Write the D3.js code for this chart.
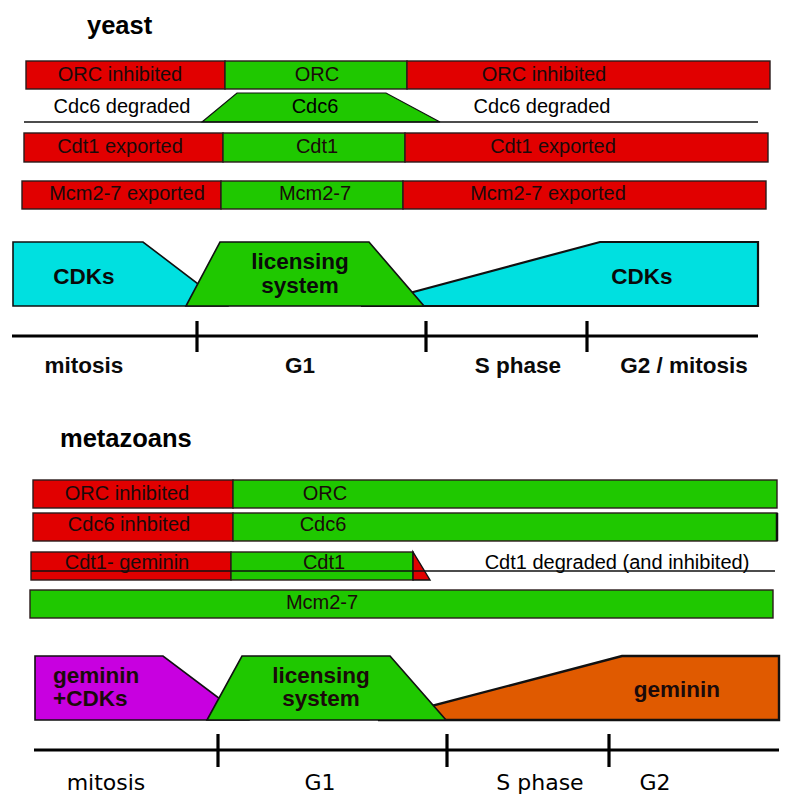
<!DOCTYPE html>
<html>
<head>
<meta charset="utf-8">
<script src="https://cdn.jsdelivr.net/npm/d3@7"></script>
<style>
html,body{margin:0;padding:0;background:#fff;}
svg{display:block;}
</style>
</head>
<body>
<svg id="chart" width="800" height="808"></svg>
<script>
// ---------- DATA (x values in cell-cycle units) ----------
const yeastORC = [
  {from:26, to:225, state:"off", label:"ORC inhibited", lx:120},
  {from:225, to:407, state:"on", label:"ORC", lx:317},
  {from:407, to:770, state:"off", label:"ORC inhibited", lx:544}
];
const yeastCdc6Line = [24, 758];
const yeastCdc6Shape = [[202,0],[237,1],[386,1],[440,0]];
const yeastCdc6Labels = [
  {label:"Cdc6 degraded", lx:122, dark:false},
  {label:"Cdc6", lx:315, dark:true},
  {label:"Cdc6 degraded", lx:542, dark:false}
];
const yeastCdt1 = [
  {from:24, to:223, state:"off", label:"Cdt1 exported", lx:120},
  {from:223, to:405, state:"on", label:"Cdt1", lx:317},
  {from:405, to:768, state:"off", label:"Cdt1 exported", lx:553}
];
const yeastMcm = [
  {from:22, to:221, state:"off", label:"Mcm2-7 exported", lx:127},
  {from:221, to:403, state:"on", label:"Mcm2-7", lx:315},
  {from:403, to:766, state:"off", label:"Mcm2-7 exported", lx:548}
];
const yeastEarlyCDK = [[13,1],[143,1],[227,0],[13,0]];
const yeastLicensing = [[186,0],[220,1],[369,1],[424,0]];
const yeastLateCDK = [[361,0],[600,1],[758,1],[758,0]];
const yeastAxis = [12, 758];
const yeastTicks = [197, 426, 587];
const yeastPhases = [
  {label:"mitosis", lx:84},
  {label:"G1", lx:300},
  {label:"S phase", lx:518},
  {label:"G2 / mitosis", lx:684}
];

const metaORC = [
  {from:33, to:233, state:"off", label:"ORC inhibited", lx:127},
  {from:233, to:777, state:"on", label:"ORC", lx:325}
];
const metaCdc6 = [
  {from:33, to:233, state:"off", label:"Cdc6 inhbited", lx:129},
  {from:233, to:777, state:"on", label:"Cdc6", lx:323}
];
const metaCdt1 = [
  {from:31, to:231, state:"off", label:"Cdt1- geminin", lx:127},
  {from:231, to:413, state:"on", label:"Cdt1", lx:324}
];
const metaCdt1Tail = [[413,1],[413,0],[430,0]];
const metaCdt1Line = [31, 775];
const metaCdt1Degraded = {label:"Cdt1 degraded (and inhibited)", lx:617};
const metaMcm = [
  {from:30, to:773, state:"on", label:"Mcm2-7", lx:322}
];
const metaEarly = [[35,1],[163,1],[248,0],[35,0]];
const metaLicensing = [[207,0],[242,1],[390,1],[446,0]];
const metaGeminin = [[378,0],[622,1],[779,1],[779,0]];
const metaAxis = [34, 779];
const metaTicks = [218, 447, 609];
const metaPhases = [
  {label:"mitosis", lx:106},
  {label:"G1", lx:320},
  {label:"S phase", lx:540},
  {label:"G2", lx:655}
];

// ---------- STYLE / LAYOUT ----------
const COL = {off:"#e10000", on:"#1fc800", cyan:"#00e0e0", purple:"#c800e0", orange:"#e05a00"};
const SANS = "'Liberation Sans', Arial, sans-serif";
const svg = d3.select("#chart");
const x = d3.scaleLinear().domain([0,800]).range([0,800]);

function barRow(data, top, h, baseOff){
  const g = svg.append("g");
  g.selectAll("rect").data(data).join("rect")
    .attr("x", d=>x(d.from)).attr("y", top)
    .attr("width", d=>x(d.to)-x(d.from)).attr("height", h)
    .attr("fill", d=>COL[d.state]).attr("stroke","#2a1a1a").attr("stroke-width",1.4);
  g.selectAll("text").data(data).join("text")
    .attr("x", d=>x(d.lx)).attr("y", top+baseOff)
    .attr("text-anchor","middle").attr("font-family",SANS).attr("font-size",20)
    .attr("fill","#1a0a0a").text(d=>d.label);
  return g;
}

function shape(pts, yS, fill, sw){
  svg.append("path")
    .attr("d", d3.line().x(d=>x(d[0])).y(d=>yS(d[1]))(pts) + "Z")
    .attr("fill", fill).attr("stroke","#111").attr("stroke-width",sw).attr("stroke-linejoin","miter");
}

function axis(ext, ticks, yPos, tickHalf){
  svg.append("line").attr("x1",x(ext[0])).attr("x2",x(ext[1]))
    .attr("y1",yPos).attr("y2",yPos).attr("stroke","#000").attr("stroke-width",3);
  svg.selectAll(null).data(ticks).join("line")
    .attr("x1",d=>x(d)).attr("x2",d=>x(d))
    .attr("y1",yPos-tickHalf).attr("y2",yPos+tickHalf+1)
    .attr("stroke","#000").attr("stroke-width",3.2);
}

// ---------- YEAST ----------
svg.append("text").attr("x",87).attr("y",34).attr("font-family",SANS)
  .attr("font-weight","bold").attr("font-size",25.5).attr("fill","#000").text("yeast");

barRow(yeastORC, 61, 28, 20);

// Cdc6 row
const yCdc6 = d3.scaleLinear().domain([0,1]).range([122,93]);
shape(yeastCdc6Shape, yCdc6, COL.on, 1.2);
svg.append("line").attr("x1",x(yeastCdc6Line[0])).attr("x2",x(yeastCdc6Line[1]))
  .attr("y1",122).attr("y2",122).attr("stroke","#111").attr("stroke-width",1.4);
svg.selectAll(null).data(yeastCdc6Labels).join("text")
  .attr("x",d=>x(d.lx)).attr("y",113).attr("text-anchor","middle")
  .attr("font-family",SANS).attr("font-size",20).attr("fill","#000").text(d=>d.label);

barRow(yeastCdt1, 133, 29, 20);
barRow(yeastMcm, 181, 28, 19);

const yY = d3.scaleLinear().domain([0,1]).range([306,242]);
shape(yeastEarlyCDK, yY, COL.cyan, 1.6);
shape(yeastLateCDK, yY, COL.cyan, 2.2);
shape(yeastLicensing, yY, COL.on, 1.6);

const bold22 = sel => sel.attr("font-family",SANS).attr("font-weight","bold").attr("font-size",22.5).attr("fill","#0a0a0a");
svg.append("text").attr("x",84).attr("y",284).attr("text-anchor","middle").call(bold22).text("CDKs");
svg.append("text").attr("x",642).attr("y",284).attr("text-anchor","middle").call(bold22).text("CDKs");
svg.append("text").attr("x",300).attr("y",269).attr("text-anchor","middle").call(bold22).text("licensing");
svg.append("text").attr("x",300).attr("y",293).attr("text-anchor","middle").call(bold22).text("system");

axis(yeastAxis, yeastTicks, 336, 15);
svg.selectAll(null).data(yeastPhases).join("text")
  .attr("x",d=>x(d.lx)).attr("y",373).attr("text-anchor","middle")
  .call(bold22).text(d=>d.label);

// ---------- METAZOANS ----------
svg.append("text").attr("x",60).attr("y",447).attr("font-family",SANS)
  .attr("font-weight","bold").attr("font-size",25.5).attr("fill","#000").text("metazoans");

barRow(metaORC, 480, 28, 20);
barRow(metaCdc6, 513, 28, 18);
svg.append("line").attr("x1",x(777)).attr("x2",x(777)).attr("y1",513).attr("y2",541)
  .attr("stroke","#111").attr("stroke-width",2.5);

// Cdt1 row
const mCdt1 = barRow(metaCdt1, 552, 28, 17);
const yCdt1 = d3.scaleLinear().domain([0,1]).range([580,552]);
shape(metaCdt1Tail, yCdt1, COL.off, 1.4);
svg.append("text").attr("x",x(metaCdt1Degraded.lx)).attr("y",569).attr("text-anchor","middle")
  .attr("font-family",SANS).attr("font-size",20).attr("fill","#000").text(metaCdt1Degraded.label);
svg.append("line").attr("x1",x(metaCdt1Line[0])).attr("x2",x(metaCdt1Line[1]))
  .attr("y1",571).attr("y2",571).attr("stroke","#111").attr("stroke-width",1.4);

barRow(metaMcm, 590, 28, 19);

const yM = d3.scaleLinear().domain([0,1]).range([720,656]);
shape(metaEarly, yM, COL.purple, 1.6);
shape(metaGeminin, yM, COL.orange, 2.4);
shape(metaLicensing, yM, COL.on, 1.6);

const boldM = sel => sel.attr("font-family",SANS).attr("font-weight","bold").attr("font-size",22.5).attr("fill","#1a0a0a");
svg.append("text").attr("x",53).attr("y",683).call(boldM).text("geminin");
svg.append("text").attr("x",53).attr("y",706).call(boldM).text("+CDKs");
svg.append("text").attr("x",321).attr("y",683).attr("text-anchor","middle").call(boldM).text("licensing");
svg.append("text").attr("x",321).attr("y",706).attr("text-anchor","middle").call(boldM).text("system");
svg.append("text").attr("x",677).attr("y",697).attr("text-anchor","middle").call(boldM).text("geminin");

axis(metaAxis, metaTicks, 750, 16);
svg.selectAll(null).data(metaPhases).join("text")
  .attr("x",d=>x(d.lx)).attr("y",790).attr("text-anchor","middle")
  .attr("font-family","'DejaVu Sans', Verdana, sans-serif").attr("font-size",22)
  .attr("fill","#000").text(d=>d.label);
</script>
</body>
</html>
